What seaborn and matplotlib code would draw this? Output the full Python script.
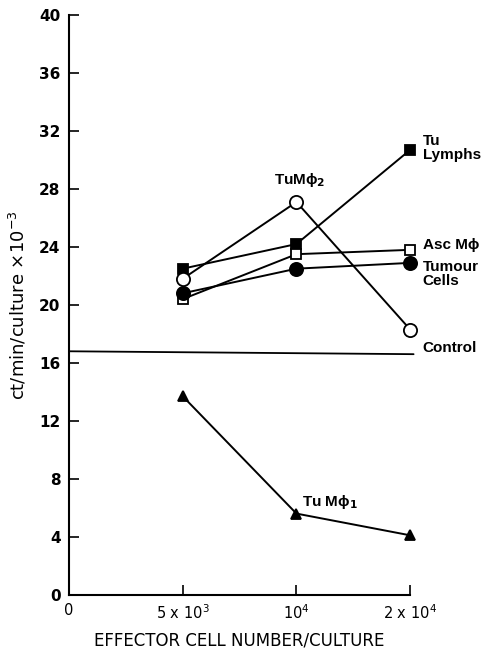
import numpy as np
import pandas as pd
import matplotlib
matplotlib.use('Agg')
import matplotlib.pyplot as plt
import seaborn as sns

sns.set_style('ticks')
plt.rcParams['font.family'] = ['DejaVu Sans']
plt.rcParams['mathtext.fontset'] = 'dejavusans'
plt.rcParams['text.color'] = 'black'
plt.rcParams['axes.labelcolor'] = 'black'
plt.rcParams['xtick.color'] = 'black'
plt.rcParams['ytick.color'] = 'black'
plt.rcParams['axes.edgecolor'] = 'black'

# effector cell number per culture (plotted at equal spacing)
x_labels = ['0', r'5 x 10$^3$', r'10$^4$', r'2 x 10$^4$']
x_pos = [1, 2, 3]

tu_lymphs = [22.5, 24.2, 30.7]
tu_mphi2 = [21.8, 27.1, 18.3]
asc_mphi = [20.4, 23.5, 23.8]
tumour_cells = [20.8, 22.5, 22.9]
tu_mphi1 = [13.7, 5.6, 4.1]

control_x = [0, 3.03]
control_y = [16.8, 16.6]

fig = plt.figure(figsize=(4.82, 6.55), dpi=100)
ax = fig.add_axes([0.143, 0.092, 0.708, 0.885])

series = [
    (tu_lymphs, 's', 'black', 6.5),
    (tu_mphi2, 'o', 'white', 9.5),
    (asc_mphi, 's', 'white', 6.5),
    (tumour_cells, 'o', 'black', 9.5),
    (tu_mphi1, '^', 'black', 7),
]
for vals, mk, fc, ms in series:
    sns.lineplot(x=x_pos, y=vals, ax=ax, color='black', linewidth=1.4,
                 marker=mk, markersize=ms, markerfacecolor=fc,
                 markeredgecolor='black', markeredgewidth=1.3, clip_on=False)

sns.lineplot(x=control_x, y=control_y, ax=ax, color='black', linewidth=1.3, clip_on=False)

ax.set_xlim(0, 3)
ax.set_ylim(0, 40)
ax.set_xticks([0, 1, 2, 3])
ax.set_xticklabels(x_labels, fontsize=10.5)
ax.set_yticks(np.arange(0, 41, 4))
ax.set_yticklabels([str(v) for v in range(0, 41, 4)], fontsize=11, fontweight='bold')
ax.tick_params(direction='in', length=7, width=1.2, pad=6)
sns.despine(ax=ax)
for s in ['left', 'bottom']:
    ax.spines[s].set_linewidth(1.5)

ax.set_ylabel(r'ct/min/culture $\times$10$^{-3}$', fontsize=13, labelpad=8)
ax.set_xlabel('EFFECTOR CELL NUMBER/CULTURE', fontsize=12, labelpad=7)

lab = dict(fontsize=11, fontweight='bold', family=['Liberation Sans', 'DejaVu Sans'])
ax.text(3.11, 30.8, 'Tu\nLymphs', va='center', ha='left', linespacing=1.0, **lab)
ax.text(2.03, 28.6, 'TuM\u03d5$_\\mathbf{2}$', va='center', ha='center', **lab)
ax.text(3.11, 24.1, 'Asc M\u03d5', va='center', ha='left', **lab)
ax.text(3.11, 22.1, 'Tumour\nCells', va='center', ha='left', linespacing=1.0, **lab)
ax.text(3.11, 17.0, 'Control', va='center', ha='left', **lab)
ax.text(2.05, 6.4, 'Tu M\u03d5$_\\mathbf{1}$', va='center', ha='left', **lab)

fig.savefig('out.png', dpi=100)
